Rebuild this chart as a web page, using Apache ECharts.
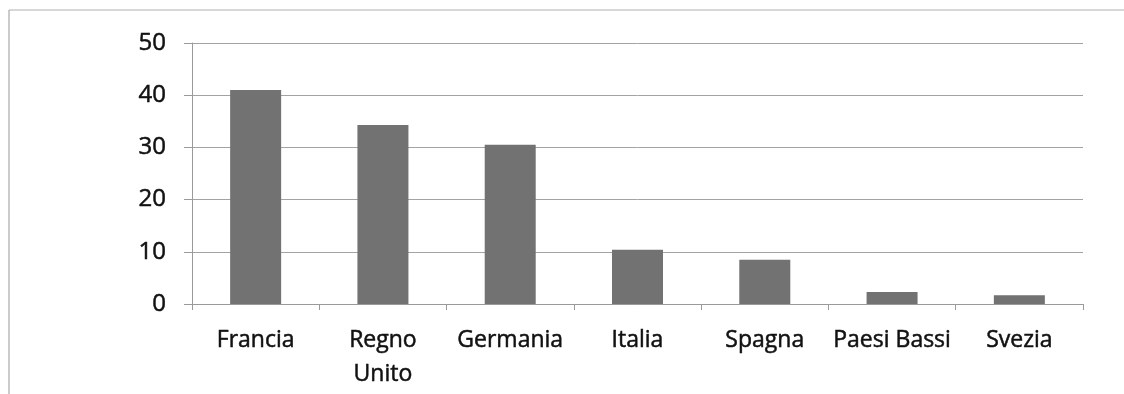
<!DOCTYPE html>
<html>
<head>
<meta charset="utf-8">
<script src="https://cdn.jsdelivr.net/npm/echarts@6/dist/echarts.min.js"></script>
<style>
  html, body { margin: 0; padding: 0; background: #fff; }
  #chart { width: 1124px; height: 394px; }
</style>
</head>
<body>
<div id="chart"></div>
<script>
// Countries on the horizontal axis
const categories = ['Francia', 'Regno\nUnito', 'Germania', 'Italia', 'Spagna', 'Paesi Bassi', 'Svezia'];
// Bar heights
const values = [41, 34.3, 30.5, 10.4, 8.5, 2.3, 1.7];
// Value axis range and tick step
const yMin = 0;
const yMax = 50;
const yStep = 10;

const chart = echarts.init(document.getElementById('chart'));
const fontFamily = '"Open Sans", sans-serif';

chart.setOption({
  animation: false,
  backgroundColor: '#ffffff',
  // outer frame: only its top and left edges fall inside the page
  graphic: [
    {
      type: 'line',
      shape: { x1: 9, y1: 10, x2: 1124, y2: 10 },
      style: { stroke: '#b0b0b0', lineWidth: 1.2 },
      silent: true
    },
    {
      type: 'line',
      shape: { x1: 9, y1: 10, x2: 9, y2: 394 },
      style: { stroke: '#a8a8a8', lineWidth: 1.2 },
      silent: true
    }
  ],
  grid: { left: 192, right: 41, top: 43, bottom: 90 },
  xAxis: {
    type: 'category',
    data: categories,
    axisLine: { show: true, lineStyle: { color: '#9a9a9a', width: 1 } },
    axisTick: { show: true, length: 6, lineStyle: { color: '#9a9a9a' } },
    axisLabel: {
      color: '#111',
      fontFamily: fontFamily,
      fontSize: 23,
      lineHeight: 34,
      margin: 19,
      interval: 0,
      textBorderColor: '#111',
      textBorderWidth: 0.5
    }
  },
  yAxis: {
    type: 'value',
    min: yMin,
    max: yMax,
    interval: yStep,
    axisLine: { show: true, lineStyle: { color: '#9a9a9a', width: 1 } },
    axisTick: { show: true, length: 8, lineStyle: { color: '#9a9a9a' } },
    splitLine: { show: true, lineStyle: { color: '#a3a3a3', width: 1 } },
    axisLabel: {
      color: '#111',
      fontFamily: fontFamily,
      fontSize: 24,
      margin: 26,
      textBorderColor: '#111',
      textBorderWidth: 0.5
    }
  },
  series: [{
    type: 'bar',
    data: values,
    barWidth: 51,
    itemStyle: { color: '#727272' }
  }]
});
</script>
</body>
</html>
